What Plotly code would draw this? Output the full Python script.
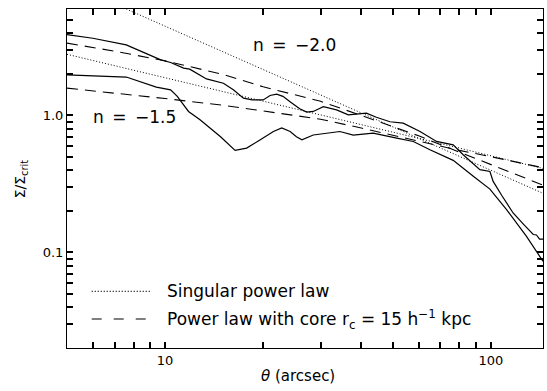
import numpy as np
import plotly.graph_objects as go

# ---- data (theta in arcsec, Sigma/Sigma_crit) ----
theta_obs_upper = [5.0, 6.0, 7.6, 9.7, 10.4, 11.4, 11.9, 13.4, 15.1, 16.2, 17.4, 18.5, 20.0,
                   21.0, 22.0, 23.0, 24.3, 25.9, 27.2, 28.5, 30.6, 33.6, 36.5, 41.5, 44.5,
                   49.0, 53.8, 60.6, 68.1, 76.6, 82.2, 92.5, 99.3, 101.6, 108.0, 117.0,
                   126.0, 134.9, 138.0, 141.0, 144.5]
sigma_obs_upper = [3.90, 3.67, 3.28, 2.55, 2.44, 2.22, 2.18, 1.85, 1.72, 1.54, 1.34, 1.30, 1.30,
                   1.40, 1.43, 1.38, 1.25, 1.12, 1.06, 1.07, 1.16, 1.10, 1.01, 1.04, 0.97,
                   0.90, 0.88, 0.764, 0.646, 0.61, 0.517, 0.402, 0.39, 0.33, 0.26, 0.194,
                   0.16, 0.135, 0.134, 0.125, 0.125]

theta_obs_lower = [5.0, 7.6, 9.4, 10.4, 10.9, 11.8, 12.8, 14.8, 16.4, 17.8, 19.6, 21.5, 22.8,
                   24.2, 25.3, 26.3, 28.5, 34.4, 37.8, 43.5, 51.4, 57.8, 65.0, 76.6, 88.3,
                   99.3, 111.7, 128.6, 144.5]
sigma_obs_lower = [1.98, 1.91, 1.61, 1.54, 1.38, 1.07, 0.93, 0.70, 0.556, 0.578, 0.665, 0.764, 0.81,
                   0.764, 0.70, 0.665, 0.72, 0.764, 0.72, 0.744, 0.684, 0.646, 0.562, 0.47, 0.36,
                   0.29, 0.205, 0.131, 0.086]

# singular power laws (dotted)
theta_sing_n20 = [7.6, 10.0, 20.0, 40.0, 80.0, 144.5]
sigma_sing_n20 = [6.0, 4.50, 2.16, 1.05, 0.505, 0.27]
theta_sing_n15 = [5.0, 10.0, 20.0, 40.0, 80.0, 144.5]
sigma_sing_n15 = [2.80, 1.89, 1.27, 0.857, 0.578, 0.41]

# power laws with core (dashed)
theta_core_n20 = [5.0, 7.0, 10.0, 15.0, 20.0, 30.0, 40.0, 60.0, 80.0, 100.0, 144.5]
sigma_core_n20 = [3.38, 2.95, 2.51, 2.00, 1.62, 1.27, 1.00, 0.71, 0.54, 0.44, 0.31]
theta_core_n15 = [5.0, 7.0, 10.0, 15.0, 20.0, 30.0, 40.0, 60.0, 80.0, 100.0, 144.5]
sigma_core_n15 = [1.585, 1.46, 1.33, 1.19, 1.08, 0.94, 0.81, 0.65, 0.556, 0.50, 0.415]

x_major = [10, 100]
x_major_text = ["10", "100"]
x_minor = [6, 7, 8, 9, 20, 30, 40, 50, 60, 70, 80, 90]
y_major = [0.1, 1.0]
y_major_text = ["0.1", "1.0"]
y_minor = [0.02, 0.03, 0.04, 0.05, 0.06, 0.07, 0.08, 0.09,
           0.2, 0.3, 0.4, 0.5, 0.6, 0.7, 0.8, 0.9, 2, 3, 4, 5]

X_RANGE = [np.log10(5), np.log10(144.5)]
Y_RANGE = [np.log10(0.02), np.log10(6)]

FONT = "DejaVu Sans"
DOT = "1px,2px"
DASH = "11px,7px"

fig = go.Figure()
series = [
    (theta_obs_upper, sigma_obs_upper, "solid", 1.2),
    (theta_obs_lower, sigma_obs_lower, "solid", 1.2),
    (theta_sing_n20, sigma_sing_n20, DOT, 1.0),
    (theta_sing_n15, sigma_sing_n15, DOT, 1.0),
    (theta_core_n20, sigma_core_n20, DASH, 1.1),
    (theta_core_n15, sigma_core_n15, DASH, 1.1),
]
for xs, ys, dash, w in series:
    fig.add_trace(go.Scatter(x=xs, y=ys, mode="lines",
                             line=dict(color="black", width=w, dash=dash),
                             showlegend=False, hoverinfo="skip"))

axis_common = dict(
    type="log", showline=True, linecolor="black", mirror="allticks",
    ticks="inside", ticklen=6, tickwidth=1.5, tickcolor="black",
    tickmode="array",
    tickfont=dict(family=FONT, size=13, color="black"),
)

x_all = x_major + x_minor
x_all_text = x_major_text + [""] * len(x_minor)
y_all = y_major + y_minor
y_all_text = y_major_text + [""] * len(y_minor)

fig.update_layout(
    width=547, height=391,
    margin=dict(l=67, r=4, t=9, b=43),
    paper_bgcolor="white", plot_bgcolor="white",
    font=dict(family=FONT, color="black"),
    xaxis=dict(axis_common, range=X_RANGE, tickvals=x_all, ticktext=x_all_text),
    yaxis=dict(axis_common, range=Y_RANGE, tickvals=y_all, ticktext=y_all_text),
)

annotations = [
    dict(text="n\u2002=\u2002\u22122.0", x=0.4776, y=0.893, size=17),
    dict(text="n\u2002=\u2002\u22121.5", x=0.1413, y=0.682, size=17),
]
for a in annotations:
    fig.add_annotation(text=a["text"], x=a["x"], y=a["y"], xref="paper", yref="paper",
                       xanchor="center", yanchor="middle", showarrow=False,
                       font=dict(family=FONT, size=a["size"], color="black"))

# axis titles
fig.add_annotation(text="<i>θ</i> (arcsec)", x=0.485, y=-0.084, xref="paper", yref="paper",
                   xanchor="center", yanchor="middle", showarrow=False,
                   font=dict(family=FONT, size=15, color="black"))
fig.add_annotation(text="Σ/Σ<sub>crit</sub>", x=-0.097, y=0.5, xref="paper", yref="paper",
                   xanchor="center", yanchor="middle", showarrow=False, textangle=-90,
                   font=dict(family=FONT, size=14, color="black"))

# legend
legend_items = [
    ("Singular power law", DOT, 0.167),
    ("Power law with core r<sub>c</sub> = 15 h<sup>\u22121</sup> kpc", "10px,12px", 0.0855),
]
for label, dash, yy in legend_items:
    fig.add_shape(type="line", xref="paper", yref="paper", x0=0.0519, x1=0.178, y0=yy, y1=yy,
                  line=dict(color="black", width=1.1, dash=dash))
    fig.add_annotation(text=label, x=0.2054, y=yy, xref="paper", yref="paper",
                       xanchor="left", yanchor="middle", showarrow=False,
                       font=dict(family=FONT, size=17, color="black"))

fig.write_html("out.html")
